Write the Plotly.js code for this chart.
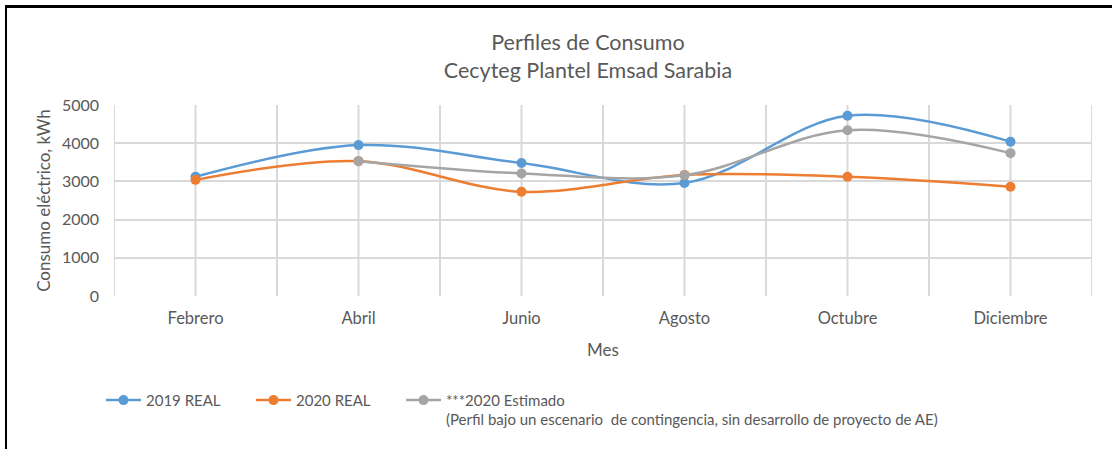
<!DOCTYPE html>
<html>
<head>
<meta charset="utf-8">
<script src="https://cdn.plot.ly/plotly-3.0.1.min.js"></script>
<style>
  body { margin: 0; background: #fff; }
  #wrap { position: relative; width: 1112px; height: 449px; }
  #frame { position: absolute; left: 5px; top: 5px; right: -10px; bottom: -10px;
           border-top: 3px solid #000; border-left: 2px solid #000; pointer-events: none; }
</style>
</head>
<body>
<div id="wrap">
  <div id="chart" style="width:1112px;height:449px;"></div>
  <div id="frame"></div>
</div>
<script>
// months on the x axis
var meses = ["Febrero", "Abril", "Junio", "Agosto", "Octubre", "Diciembre"];

// consumption in kWh
var real2019 = [3120, 3950, 3480, 2960, 4720, 4040];
var real2020 = [3040, 3530, 2730, 3170, 3120, 2860];
var estimado2020 = [null, 3530, 3210, 3160, 4340, 3740];

var idx = meses.map((m, i) => i);

var font = "Lato, 'Open Sans', sans-serif";
var gris = "#595959";
var gridColor = "#D9D9D9";

// vertical gridlines at every month and between months (like excel)
var gridVals = [];
idx.forEach(i => gridVals.push(i - 0.5, i));
gridVals.push(idx.length - 0.5);
var vGrid = gridVals.map(v => ({
    type: "line", xref: "x", yref: "paper",
    x0: v, x1: v, y0: 0, y1: 1,
    line: {color: gridColor, width: 2},
    layer: "below"
}));

function serie(name, y, color, leg) {
    return {
        x: idx,
        y: y,
        name: name,
        legend: leg,
        type: "scatter",
        mode: "lines+markers",
        line: {color: color, width: 2.5, shape: "spline", smoothing: 1},
        marker: {color: color, size: 10},
        connectgaps: false
    };
}

var data = [
    serie("2019 REAL", real2019, "#5B9BD5", "legend"),
    serie("2020 REAL", real2020, "#ED7D31", "legend2"),
    serie("***2020 Estimado<br>(Perfil bajo un escenario  de contingencia, sin desarrollo de proyecto de AE)", estimado2020, "#A5A5A5", "legend3")
];

function leyenda(px) {
    return {
        x: (px - 114) / 978,
        xanchor: "left",
        y: -0.46,
        yanchor: "top",
        valign: "top",
        itemwidth: 35,
        bgcolor: "rgba(0,0,0,0)",
        font: {size: 15, color: gris}
    };
}

var layout = {
    width: 1112,
    height: 449,
    margin: {l: 114, r: 20, t: 105, b: 153},
    paper_bgcolor: "#fff",
    plot_bgcolor: "#fff",
    font: {family: font, color: gris, size: 14},
    title: {
        text: "Perfiles de Consumo<br>Cecyteg Plantel Emsad Sarabia",
        font: {size: 21.5, color: gris},
        x: 588 / 1112, xanchor: "center",
        y: 1 - 50 / 449, yanchor: "top"
    },
    xaxis: {
        range: [-0.5, 5.5],
        tickvals: idx,
        ticktext: meses,
        showgrid: false,
        zeroline: false,
        showline: false,
        ticks: "",
        ticklabelstandoff: 10,
        tickfont: {size: 16.5, color: gris},
        title: {text: "Mes", font: {size: 17, color: gris}, standoff: 17}
    },
    yaxis: {
        range: [0, 5000],
        dtick: 1000,
        showgrid: true,
        gridcolor: gridColor,
        gridwidth: 2,
        zeroline: false,
        showline: false,
        ticks: "",
        ticklabelstandoff: 14,
        tickfont: {size: 16, color: gris},
        title: {text: "Consumo eléctrico, kWh", font: {size: 17, color: gris}, standoff: 6}
    },
    shapes: vGrid,
    showlegend: true,
    legend: leyenda(101),
    legend2: leyenda(251),
    legend3: leyenda(401)
};

Plotly.newPlot("chart", data, layout, {displayModeBar: false});
</script>
</body>
</html>
